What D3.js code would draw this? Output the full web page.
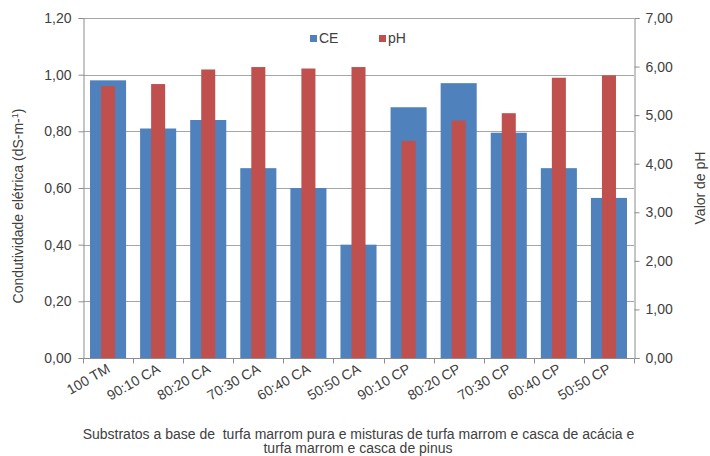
<!DOCTYPE html>
<html>
<head>
<meta charset="utf-8">
<script src="https://cdn.jsdelivr.net/npm/d3@7"></script>
<style>
  html, body { margin: 0; padding: 0; background: #fff; }
  svg { display: block; font-family: "Liberation Sans", Arial, sans-serif; }
</style>
</head>
<body>
<svg id="chart" width="710" height="456"></svg>
<script>
// Substrate treatments (x categories)
const categories = ["100 TM", "90:10 CA", "80:20 CA", "70:30 CA", "60:40 CA", "50:50 CA",
                    "90:10 CP", "80:20 CP", "70:30 CP", "60:40 CP", "50:50 CP"];
// Electrical conductivity, dS m-1 (left axis)
const ceValues = [0.98, 0.81, 0.84, 0.67, 0.60, 0.40, 0.885, 0.97, 0.795, 0.67, 0.565];
// pH (right axis)
const phValues = [5.60, 5.64, 5.94, 5.99, 5.96, 5.99, 4.47, 4.89, 5.04, 5.77, 5.82];
const ceTicks = [0, 0.2, 0.4, 0.6, 0.8, 1.0, 1.2];
const phTicks = [0, 1, 2, 3, 4, 5, 6, 7];

const svg = d3.select("#chart");
const plotL = 83, plotR = 634, plotT = 18, plotB = 358;
const textColor = "#404040", axisColor = "#8c8c8c", gridColor = "#a6a6a6";
const fs = 14;
const fmt = v => d3.format(".2f")(v).replace(".", ",");

const x = d3.scaleBand().domain(categories).range([plotL, plotR]).paddingInner(0).paddingOuter(0);
const yCE = d3.scaleLinear().domain([0, 1.2]).range([plotB, plotT]);
const yPH = d3.scaleLinear().domain([0, 7]).range([plotB, plotT]);

// horizontal gridlines on the conductivity scale
svg.append("g").selectAll("line").data(ceTicks.slice(1)).join("line")
  .attr("x1", plotL).attr("x2", plotR)
  .attr("y1", d => Math.round(yCE(d)) + 0.5).attr("y2", d => Math.round(yCE(d)) + 0.5)
  .attr("stroke", gridColor).attr("stroke-width", 1);

const bw = x.bandwidth();
const ceW = bw * 0.72, phW = bw * 0.28;

svg.append("g").selectAll("rect").data(categories).join("rect")
  .attr("x", d => x(d) + (bw - ceW) / 2)
  .attr("width", ceW)
  .attr("y", (d, i) => yCE(ceValues[i]))
  .attr("height", (d, i) => plotB - yCE(ceValues[i]))
  .attr("fill", "#4f81bd");

svg.append("g").selectAll("rect").data(categories).join("rect")
  .attr("x", d => x(d) + (bw - phW) / 2)
  .attr("width", phW)
  .attr("y", (d, i) => yPH(phValues[i]))
  .attr("height", (d, i) => plotB - yPH(phValues[i]))
  .attr("fill", "#c0504d");

// left axis
const gL = svg.append("g").attr("transform", `translate(${plotL + 0.5},0)`)
  .call(d3.axisLeft(yCE).tickValues(ceTicks).tickFormat(fmt).tickSizeOuter(0).tickSize(5).tickPadding(7));
// right axis
const gR = svg.append("g").attr("transform", `translate(${plotR + 0.5},0)`)
  .call(d3.axisRight(yPH).tickValues(phTicks).tickFormat(fmt).tickSizeOuter(0).tickSize(5).tickPadding(6));
// bottom axis with ticks on category boundaries
const gB = svg.append("g").attr("transform", `translate(0,${plotB + 0.5})`);
gB.append("line").attr("x1", plotL).attr("x2", plotR).attr("stroke", axisColor);
gB.selectAll("line.tk").data(d3.range(categories.length + 1)).join("line").attr("class", "tk")
  .attr("x1", i => Math.round(plotL + i * bw) + 0.5).attr("x2", i => Math.round(plotL + i * bw) + 0.5)
  .attr("y1", 0).attr("y2", 5).attr("stroke", axisColor);
gB.selectAll("text").data(categories).join("text")
  .attr("transform", d => `translate(${x(d) + bw / 2 + 3},${13}) rotate(-30)`)
  .attr("text-anchor", "end")
  .attr("font-size", fs).attr("fill", textColor)
  .text(d => d);

[gL, gR].forEach(g => {
  g.select(".domain").attr("stroke", axisColor);
  g.selectAll(".tick line").attr("stroke", axisColor);
  g.selectAll(".tick text").attr("fill", textColor).attr("font-size", fs)
    .attr("font-family", "Liberation Sans, Arial, sans-serif");
});

// axis titles
const lt = svg.append("text")
  .attr("transform", `translate(23,206) rotate(-90)`)
  .attr("text-anchor", "middle").attr("font-size", fs).attr("fill", textColor);
lt.append("tspan").text("Condutividade  elétrica (dS-m-");
lt.append("tspan").attr("font-size", 9).attr("dy", -5).text("1");
lt.append("tspan").attr("dy", 5).text(")");

svg.append("text")
  .attr("transform", `translate(705,188) rotate(-90)`)
  .attr("text-anchor", "middle").attr("font-size", fs).attr("fill", textColor)
  .text("Valor de pH");

// x-axis title (two lines)
svg.append("text").attr("x", 358.5).attr("y", 439)
  .attr("text-anchor", "middle").attr("font-size", fs).attr("fill", textColor)
  .attr("xml:space", "preserve")
  .text("Substratos a base de  turfa marrom pura e misturas de turfa marrom e casca de acácia e");
svg.append("text").attr("x", 358).attr("y", 453)
  .attr("text-anchor", "middle").attr("font-size", fs).attr("fill", textColor)
  .text("turfa marrom e casca de pinus");

// legend
const legend = [["CE", "#4f81bd", 310], ["pH", "#c0504d", 379]];
const lg = svg.append("g");
legend.forEach(([name, color, lx]) => {
  lg.append("rect").attr("x", lx).attr("y", 35).attr("width", 7).attr("height", 7).attr("fill", color);
  lg.append("text").attr("x", lx + 9).attr("y", 43).attr("font-size", fs).attr("fill", textColor).text(name);
});
</script>
</body>
</html>
